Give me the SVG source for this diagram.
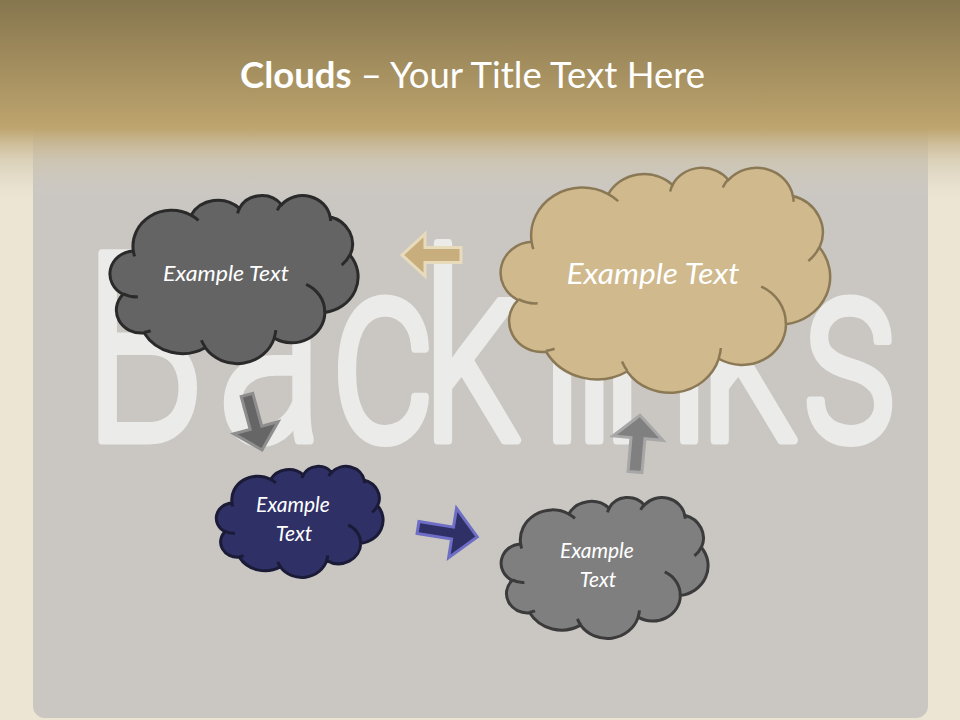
<svg xmlns="http://www.w3.org/2000/svg" xmlns:xlink="http://www.w3.org/1999/xlink" width="960" height="720" viewBox="0 0 960 720">
<defs>
<linearGradient id="hdr" x1="0" y1="0" x2="0" y2="1">
<stop offset="0" stop-color="#86764e"/>
<stop offset="1" stop-color="#bea46e"/>
</linearGradient>
<linearGradient id="fade" x1="0" y1="0" x2="0" y2="1">
<stop offset="0" stop-color="#bea46e" stop-opacity="1"/>
<stop offset="0.45" stop-color="#cfc3a6" stop-opacity="0.6"/>
<stop offset="1" stop-color="#d6d0c4" stop-opacity="0"/>
</linearGradient>
<path id="cloudOutline" vector-effect="non-scaling-stroke" d="M3900,14370 A6753,9190 0 0 1 14005,5203 A5333,7267 0 0 1 22456,3433 A4365,5945 0 0 1 29833,2482 A4857,6595 0 0 1 38318,5575 A5333,7273 0 0 1 41819,15459 A6775,9220 0 0 1 37404,30201 A5785,7867 0 0 1 28556,36812 A6752,9215 0 0 1 16482,39266 A7720,10543 0 0 1 5805,35472 A4360,5918 0 0 1 2113,25550 A4345,5945 0 0 1 3900,14370 Z"/>
<path id="cloudCreases" vector-effect="non-scaling-stroke" fill="none" d="M4693,26177 A4345,5945 0 0 1 2160,25381 M6928,34899 A4360,5918 0 0 1 5819,35281 M16478,39090 A6752,9215 0 0 1 15809,37346 M28827,34751 A6752,9215 0 0 1 28560,36660 M34129,22954 A5785,7867 0 0 1 37380,30089 M41798,15354 A5333,7273 0 0 1 40350,18030 M38324,5426 A4857,6595 0 0 1 38401,6689 M29078,3952 A4857,6595 0 0 1 29820,2342 M22141,4720 A4365,5945 0 0 1 22500,3331 M14000,5192 A6753,9190 0 0 1 15302,6543 M4127,15789 A6753,9190 0 0 1 3901,14371"/>
</defs>
<style>
.lbl{font-family:Lato,"Open Sans","Liberation Sans",sans-serif;font-style:italic;fill:#ffffff;text-anchor:middle}
.dark{fill:#646464;stroke:#2a2a2a;stroke-width:3}
.tan{fill:#cfb98d;stroke:#8b7956;stroke-width:2.5}
.navy{fill:#2e3066;stroke:#1b1b38;stroke-width:3}
.gray{fill:#7f7f7f;stroke:#3b3b3b;stroke-width:3}
.crease{fill:none}
.arrow{stroke-width:3;stroke-linejoin:miter}
</style>
<rect x="0" y="0" width="960" height="720" fill="#ece5d3"/>
<rect x="33" y="100" width="895" height="618" rx="12" fill="#cac7c2"/>
<rect x="0" y="0" width="960" height="128" fill="url(#hdr)"/>
<rect x="0" y="128" width="960" height="70" fill="url(#fade)"/>
<text x="240" y="88" textLength="465" lengthAdjust="spacingAndGlyphs" font-family="Lato,'Open Sans','Liberation Sans',sans-serif" font-size="37" fill="#ffffff"><tspan font-weight="bold">Clouds</tspan> – Your Title Text Here</text>
<g transform="scale(0.75,1)">
<text x="112 290 443 563 720 763 802 932 1067" y="440" font-family="Roboto,'Open Sans','DejaVu Sans',sans-serif" font-weight="300" font-size="262" fill="#efefef" stroke="#efefef" stroke-width="9" stroke-linejoin="round" opacity="0.9">Backlinks</text>
</g>
<g id="connectors">
<polygon class="arrow" fill="#c8ae7c" stroke="#e8dbbb" points="0,-7.5 36,-7.5 36,-21 59,0 36,21 36,7.5 0,7.5" transform="translate(461,255) rotate(180)"/>
<polygon class="arrow" fill="#666666" stroke="#8e8e8e" points="0,-6 34,-6 34,-23 57,0 34,23 34,6 0,6" transform="translate(247,395) rotate(74.7)"/>
<polygon class="arrow" fill="#2e3066" stroke="#6e6ec6" points="0,-6 35,-6 35,-25 60,0 35,25 35,6 0,6" transform="translate(418,527.5) rotate(9.1)"/>
<polygon class="arrow" fill="#808080" stroke="#a7a7a7" points="0,-7 34,-7 34,-25 57,0 34,25 34,7 0,7" transform="translate(635,472) rotate(-85)"/>
</g>
<g id="cloud-dark">
<g class="dark" transform="translate(111,195) scale(0.0057176,0.0038889)">
<use xlink:href="#cloudOutline"/>
<use xlink:href="#cloudCreases" class="crease"/>
</g>
<text class="lbl" x="226" y="281" font-size="21" textLength="126" lengthAdjust="spacingAndGlyphs">Example Text</text>
</g>
<g id="cloud-tan">
<g class="tan" transform="translate(502,167) scale(0.0075926,0.0052083)">
<use xlink:href="#cloudOutline"/>
<use xlink:href="#cloudCreases" class="crease"/>
</g>
<text class="lbl" x="653" y="284" font-size="28" textLength="173" lengthAdjust="spacingAndGlyphs">Example Text</text>
</g>
<g id="cloud-navy">
<g class="navy" transform="translate(217,466) scale(0.0038426,0.0025694)">
<use xlink:href="#cloudOutline"/>
<use xlink:href="#cloudCreases" class="crease"/>
</g>
<text class="lbl" x="293" y="512" font-size="21">Example</text>
<text class="lbl" x="294" y="541" font-size="21">Text</text>
</g>
<g id="cloud-gray">
<g class="gray" transform="translate(502,497) scale(0.0047685,0.0032639)">
<use xlink:href="#cloudOutline"/>
<use xlink:href="#cloudCreases" class="crease"/>
</g>
<text class="lbl" x="597" y="558" font-size="21">Example</text>
<text class="lbl" x="598" y="587" font-size="21">Text</text>
</g>
</svg>
